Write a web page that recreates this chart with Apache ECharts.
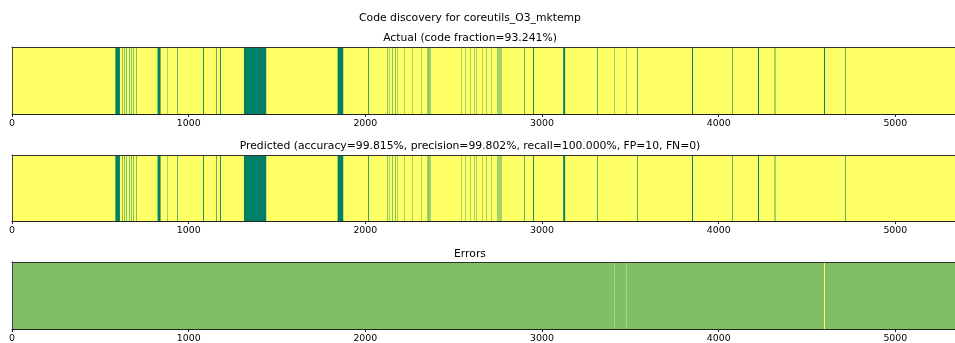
<!DOCTYPE html>
<html>
<head>
<meta charset="utf-8">
<script src="https://cdn.jsdelivr.net/npm/echarts@6/dist/echarts.min.js"></script>
<style>
  html, body { margin: 0; padding: 0; background: #fff; }
  #chart { width: 955px; height: 343px; }
</style>
</head>
<body>
<div id="chart"></div>
<script>
// byte range of the binary and tick labels
const totalBytes = 5400;
const tickValues = [0, 1000, 2000, 3000, 4000, 5000];

// data (non-code) regions as [start, length]
const actualSegments = [
  [585, 26], [624, 2], [636, 2], [649, 2], [662, 2], [675, 2], [689, 2], [703, 2],
  [824, 17], [879, 1], [935, 3], [1083, 5], [1154, 3], [1179, 5], [1313, 126],
  [1843, 32], [2017, 4],
  [2126, 2], [2139, 1], [2154, 2], [2169, 2], [2181, 1], [2220, 1], [2266, 1], [2315, 1],
  [2350, 1], [2356, 2], [2362, 1], [2371, 1],
  [2543, 1], [2567, 1], [2596, 1], [2615, 1], [2630, 1], [2660, 1], [2686, 1], [2715, 1],
  [2745, 1], [2751, 1], [2757, 1], [2763, 1], [2769, 1],
  [2901, 3], [2949, 5], [3120, 11], [3315, 3], [3411, 1], [3477, 1], [3539, 3],
  [3848, 6], [4077, 3], [4222, 6], [4314, 1], [4324, 1], [4596, 8], [4716, 3]
];

const predictedSegments = [
  [585, 26], [624, 2], [636, 2], [649, 2], [662, 2], [675, 2], [689, 2], [703, 2],
  [824, 17], [879, 1], [935, 3], [1083, 5], [1154, 3], [1179, 5], [1313, 126],
  [1843, 32], [2017, 4],
  [2126, 2], [2139, 1], [2154, 2], [2169, 2], [2181, 1], [2220, 1], [2266, 1], [2315, 1],
  [2350, 1], [2356, 2], [2362, 1], [2371, 1],
  [2543, 1], [2567, 1], [2596, 1], [2615, 1], [2630, 1], [2660, 1], [2686, 1], [2715, 1],
  [2745, 1], [2751, 1], [2757, 1], [2763, 1], [2769, 1],
  [2901, 3], [2949, 5], [3120, 11], [3315, 3], [3539, 3],
  [3848, 6], [4077, 3], [4222, 6], [4314, 1], [4324, 1], [4716, 3]
];

// false positives (predicted code, actually data)
const errorSegments = [[3411, 1], [3477, 1], [4596, 8]];

const YELLOW = '#ffff66';
const TEAL = '#008066';
const MIDGREEN = '#80bf66';

const chart = echarts.init(document.getElementById('chart'));

// thin regions are drawn 1px wide and faded, like the resampled image
function renderSeg(color) {
  return function (params, api) {
    const start = api.value(0), len = api.value(1);
    const p0 = api.coord([start, 1]);
    const p1 = api.coord([start + len, 0]);
    let x = p0[0], w = p1[0] - p0[0], alpha = 1;
    if (w < 1.5) {
      alpha = Math.min(1, 0.22 + w * 0.75);
      x = Math.floor(x + w / 2);
      w = 1;
    }
    return {
      type: 'rect',
      shape: { x: x, y: p0[1], width: w, height: p1[1] - p0[1] },
      style: { fill: color, opacity: alpha, stroke: null, lineWidth: 0 }
    };
  };
}

const grids = [
  { top: 47, height: 67, bg: YELLOW },
  { top: 155, height: 66, bg: YELLOW },
  { top: 262, height: 67, bg: MIDGREEN }
];

const xAxes = [], yAxes = [];
grids.forEach((g, i) => {
  xAxes.push({
    type: 'value', gridIndex: i, min: 0, max: totalBytes, interval: 1000, z: 5,
    axisLine: { lineStyle: { color: '#222', width: 1 } },
    axisTick: { length: 3, lineStyle: { color: '#222' } },
    axisLabel: {
      margin: 5, fontSize: 9.4, color: '#000', fontFamily: 'DejaVu Sans',
      showMaxLabel: false,
      formatter: v => (tickValues.includes(v) ? String(v) : '')
    },
    splitLine: { show: false }
  });
  xAxes.push({
    type: 'value', gridIndex: i, min: 0, max: totalBytes, position: 'top', z: 5,
    axisLine: { lineStyle: { color: '#333', width: 1 } },
    axisTick: { show: false }, axisLabel: { show: false }, splitLine: { show: false }
  });
  yAxes.push({
    type: 'value', gridIndex: i, min: 0, max: 1, z: 5,
    axisLine: { show: true, lineStyle: { color: '#444', width: 1 } },
    axisTick: { show: false }, axisLabel: { show: false }, splitLine: { show: false }
  });
});

const titleStyle = { fontSize: 10.8, fontWeight: 'normal', color: '#000', fontFamily: 'DejaVu Sans' };

chart.setOption({
  animation: false,
  backgroundColor: '#fff',
  title: [
    { text: 'Code discovery for coreutils_O3_mktemp', left: 470, top: 13, textAlign: 'center', padding: 0, textStyle: titleStyle },
    { text: 'Actual (code fraction=93.241%)', left: 470, top: 33, textAlign: 'center', padding: 0, textStyle: titleStyle },
    { text: 'Predicted (accuracy=99.815%, precision=99.802%, recall=100.000%, FP=10, FN=0)', left: 470, top: 141, textAlign: 'center', padding: 0, textStyle: titleStyle },
    { text: 'Errors', left: 470, top: 249, textAlign: 'center', padding: 0, textStyle: titleStyle }
  ],
  grid: grids.map(g => ({
    left: 12, width: 954, top: g.top, height: g.height,
    outerBoundsMode: 'none', containLabel: false,
    show: true, backgroundColor: g.bg, borderWidth: 0
  })),
  xAxis: xAxes,
  yAxis: yAxes,
  series: [
    { type: 'custom', xAxisIndex: 0, yAxisIndex: 0, clip: true, renderItem: renderSeg(TEAL), data: actualSegments },
    { type: 'custom', xAxisIndex: 2, yAxisIndex: 1, clip: true, renderItem: renderSeg(TEAL), data: predictedSegments },
    { type: 'custom', xAxisIndex: 4, yAxisIndex: 2, clip: true, renderItem: renderSeg(YELLOW), data: errorSegments }
  ]
});
</script>
</body>
</html>
